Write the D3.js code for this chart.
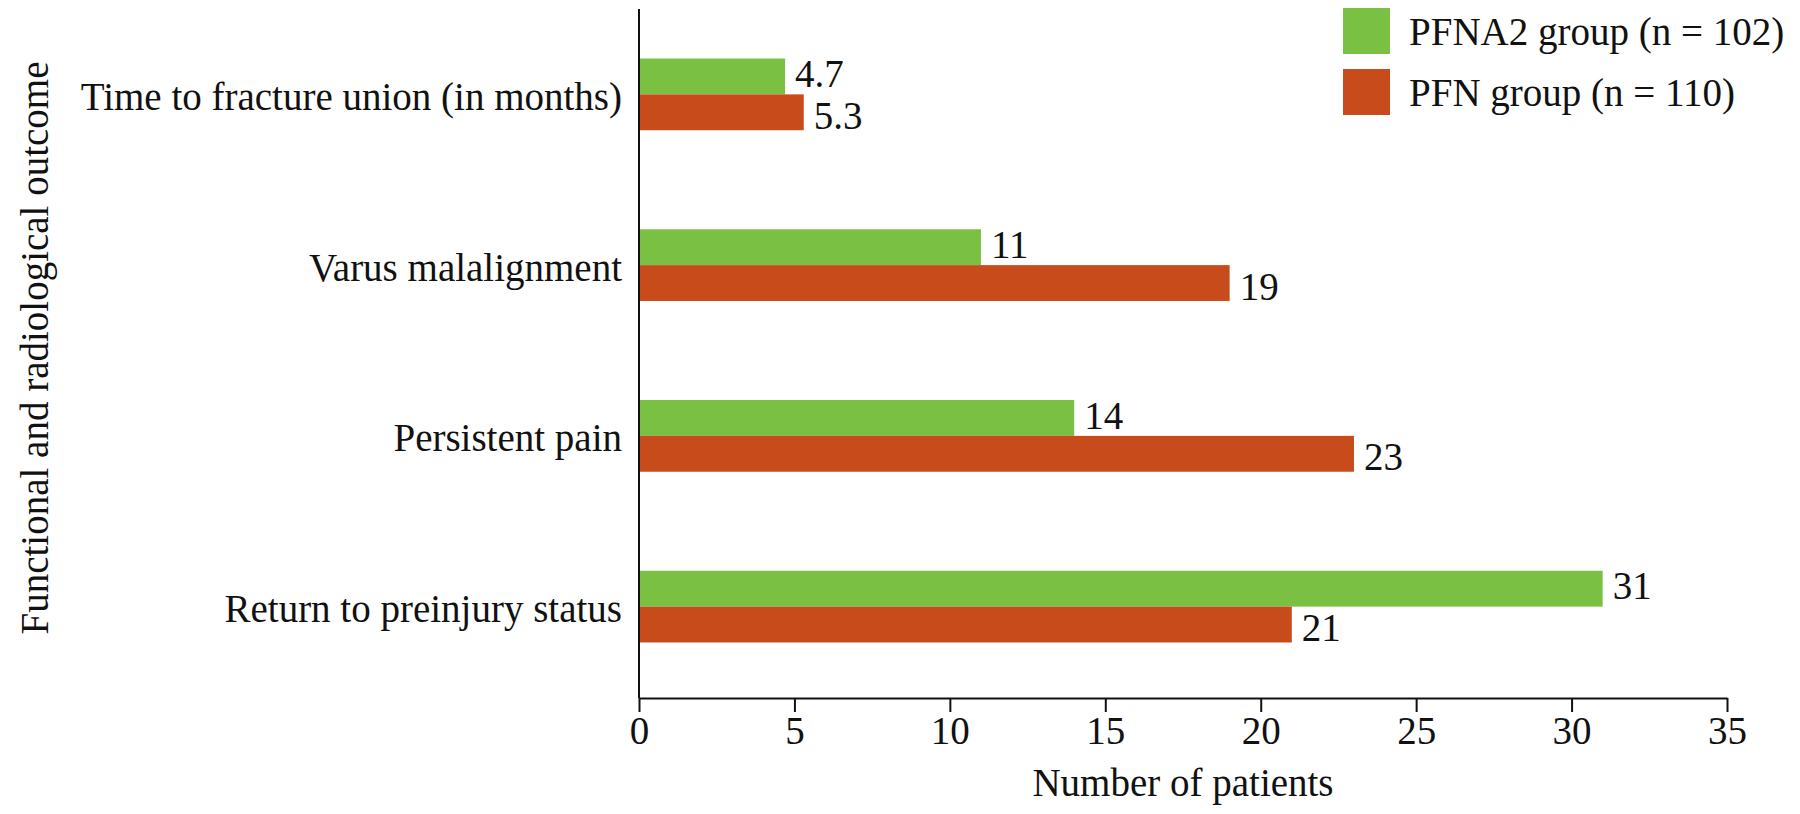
<!DOCTYPE html>
<html>
<head>
<meta charset="utf-8">
<script src="https://cdn.jsdelivr.net/npm/d3@7"></script>
<style>
	body { margin: 0; background: #fff; }
	svg text { font-family: "Liberation Serif", Tinos, "Times New Roman", Times, "DejaVu Serif", serif !important; fill: #111; }
</style>
</head>
<body>
<svg id="canvas"></svg>
<script>
// data
const categories = [
	'Time to fracture union (in months)',
	'Varus malalignment',
	'Persistent pain',
	'Return to preinjury status'
];
const seriesNames = [ 'PFNA2 group (n = 102)', 'PFN group (n = 110)' ];
const pfna2Values = [ 4.7, 11, 14, 31 ];
const pfnValues = [ 5.3, 19, 23, 21 ];
const xTicks = [ 0, 5, 10, 15, 20, 25, 30, 35 ];
const colors = [ '#7ac143', '#c84b1b' ];

//size of the drawing and plot edges
const w = 1800;
const h = 814;
const plotLeft = 639;
const plotRight = 1727;
const plotTop = 9;
const plotBottom = 698;
const fontSize = 39;
const serif = '"Liberation Serif", Tinos, "Times New Roman", Times, "DejaVu Serif", serif';

const svg = d3.select('#canvas').attr('width', w).attr('height', h).attr('font-family', serif);

const rows = categories.map((c, i) => {
	return { category: c, values: [ pfna2Values[i], pfnValues[i] ] };
});

//x scale
const xScale = d3.scaleLinear().domain([ 0, 35 ]).range([ plotLeft, plotRight ]);

//category scale and scale for the two groups inside it
const yScale = d3.scaleBand().domain(categories).range([ plotTop, 692 ]).paddingInner(0.58).paddingOuter(0.29);
const ySub = d3.scaleBand().domain([ 0, 1 ]).range([ 0, yScale.bandwidth() ]);

const groups = svg
	.selectAll('g.row')
	.data(rows)
	.enter()
	.append('g')
	.attr('class', 'row')
	.attr('transform', (d) => 'translate(0,' + yScale(d.category) + ')');

groups
	.selectAll('rect')
	.data((d) => d.values)
	.enter()
	.append('rect')
	.attr('x', xScale(0))
	.attr('y', (d, i) => ySub(i))
	.attr('width', (d) => xScale(d) - xScale(0))
	.attr('height', ySub.bandwidth())
	.style('fill', (d, i) => colors[i]);

// value labels, nudged a little apart like in the original
groups
	.selectAll('text.value')
	.data((d) => d.values)
	.enter()
	.append('text')
	.attr('class', 'value')
	.attr('x', (d) => xScale(d) + 10)
	.attr('y', (d, i) => ySub(i) + ySub.bandwidth() / 2 + (i === 0 ? -3 : 3))
	.attr('dy', '0.35em')
	.style('font-size', fontSize + 'px')
	.text((d) => d);

// x axis
const xAxis = d3.axisBottom(xScale).tickValues(xTicks).tickSize(14).tickSizeOuter(0).tickPadding(4);
const xG = svg.append('g').attr('transform', 'translate(0,' + plotBottom + ')').call(xAxis);
xG.attr('font-family', serif);
xG.selectAll('text').style('font-size', fontSize + 'px').attr('fill', '#111');
xG.selectAll('line').attr('stroke', '#111').attr('stroke-width', 2);
xG.select('.domain').attr('stroke', '#111').attr('stroke-width', 2);

// y axis: labels from the axis, line drawn full height
const yAxis = d3.axisLeft(yScale).tickSize(0).tickPadding(17);
const yG = svg.append('g').attr('transform', 'translate(' + plotLeft + ',0)').call(yAxis);
yG.attr('font-family', serif);
yG.select('.domain').remove();
yG.selectAll('text').style('font-size', fontSize + 'px').attr('fill', '#111').attr('dy', '0.4em');
svg
	.append('line')
	.attr('x1', plotLeft)
	.attr('x2', plotLeft)
	.attr('y1', plotTop)
	.attr('y2', plotBottom)
	.attr('stroke', '#111')
	.attr('stroke-width', 2);

// axis titles
svg
	.append('text')
	.attr('x', (plotLeft + plotRight) / 2)
	.attr('y', 796)
	.attr('text-anchor', 'middle')
	.style('font-size', fontSize + 'px')
	.text('Number of patients');

svg
	.append('text')
	.attr('transform', 'translate(34,348) rotate(-90)')
	.attr('text-anchor', 'middle')
	.attr('dy', '0.35em')
	.style('font-size', fontSize + 'px')
	.text('Functional and radiological outcome');

// legend
const legend = svg
	.selectAll('g.legend')
	.data(seriesNames)
	.enter()
	.append('g')
	.attr('class', 'legend')
	.attr('transform', (d, i) => 'translate(1343,' + (8 + i * 61) + ')');

legend.append('rect').attr('width', 47).attr('height', 46).style('fill', (d, i) => colors[i]);

legend
	.append('text')
	.attr('x', 66)
	.attr('y', 23)
	.attr('dy', '0.35em')
	.style('font-size', fontSize + 'px')
	.text((d) => d);
</script>
</body>
</html>
